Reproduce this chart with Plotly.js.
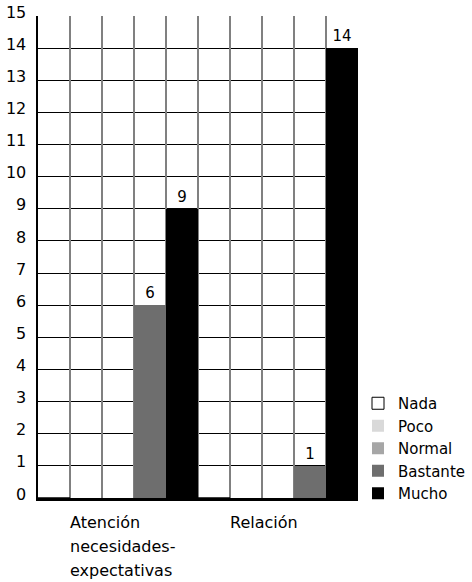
<!DOCTYPE html>
<html>
<head>
<meta charset="utf-8">
<script src="https://cdn.plot.ly/plotly-3.0.1.min.js"></script>
<style>html,body{margin:0;padding:0;background:#fff;}#chart{width:472px;height:582px;}</style>
</head>
<body>
<div id="chart"></div>
<script>
const categories = ['Atención necesidades-expectativas', 'Relación'];
const categoryLabelLines = [['Atención', 'necesidades-', 'expectativas'], ['Relación']];
const seriesNames = ['Nada', 'Poco', 'Normal', 'Bastante', 'Mucho'];
const nada = [0, 0];
const poco = [0, 0];
const normal = [0, 0];
const bastante = [6, 1];
const mucho = [9, 14];
const yTicks = [0,1,2,3,4,5,6,7,8,9,10,11,12,13,14,15];
const brokenGridValues = [15, 10, 9];

const seriesValues = [nada, poco, normal, bastante, mucho];
const colors = ['#ffffff', '#d9d9d9', '#a6a6a6', '#6e6e6e', '#000000'];
const fontFam = '"DejaVu Sans", "Noto Sans", sans-serif';

const traces = seriesNames.map((name, i) => ({
  type: 'bar',
  name: name,
  x: categories,
  y: seriesValues[i],
  text: seriesValues[i].map(v => v > 0 ? String(v) : ''),
  textposition: 'outside',
  textfont: {family: fontFam, size: 15, color: '#000'},
  cliponaxis: false,
  marker: {color: colors[i], line: {color: i === 0 ? '#000' : colors[i], width: i === 0 ? 1 : 0}}
}));

// invisible trace to activate the secondary x axis used for the vertical grid lines
traces.push({type: 'scatter', x: [0], y: [0], xaxis: 'x2', mode: 'markers', marker: {opacity: 0}, showlegend: false, hoverinfo: 'skip'});

const annotations = [];
categories.forEach((c, i) => {
  categoryLabelLines[i].forEach((line, j) => {
    annotations.push({
      xref: 'x', yref: 'paper', x: c, y: 0, yshift: -24 - 24 * j,
      xanchor: 'left', yanchor: 'middle', xshift: -49, align: 'left',
      text: line, showarrow: false, borderpad: 0,
      font: {family: fontFam, size: 16, color: '#000'}
    });
  });
});

// white gaps that break some grid lines into dashes, as in the reference
const shapes = brokenGridValues.map(v => ({
  type: 'line', xref: 'paper', yref: 'y', x0: 0, x1: 1, y0: v, y1: v,
  layer: 'between', line: {color: '#ffffff', width: 2, dash: '3px,9px'}
}));

const layout = {
  width: 472, height: 582,
  margin: {l: 38, r: 112, t: 16, b: 84},
  paper_bgcolor: '#fff', plot_bgcolor: '#fff',
  barmode: 'group', bargap: 0, bargroupgap: 0,
  showlegend: true,
  font: {family: fontFam, size: 15, color: '#000'},
  xaxis: {
    type: 'category', showticklabels: false, ticks: '', tickson: 'boundaries',
    showgrid: true, gridcolor: '#000', gridwidth: 1.5,
    showline: true, linecolor: '#000', linewidth: 2.5,
    zeroline: false
  },
  xaxis2: {
    overlaying: 'x', range: [0, 10], dtick: 1, showticklabels: false, ticks: '',
    showgrid: true, gridcolor: '#808080', gridwidth: 2, zeroline: false, showline: false
  },
  yaxis: {
    range: [0, 15], tickvals: yTicks, ticktext: yTicks.map(String),
    showgrid: true, gridcolor: '#000', gridwidth: 1, zeroline: false,
    showline: true, linecolor: '#000', linewidth: 2.5, ticks: '',
    ticklabelstandoff: 6, ticklabelshift: -4,
    tickfont: {family: fontFam, size: 16, color: '#000'}
  },
  legend: {
    xref: 'container', yref: 'container',
    x: 358 / 472, xanchor: 'left', y: 1 - 387 / 582, yanchor: 'top',
    itemwidth: 30, tracegroupgap: 0,
    font: {family: fontFam, size: 15, color: '#000'},
    bgcolor: 'rgba(0,0,0,0)'
  },
  shapes: shapes,
  annotations: annotations
};

Plotly.newPlot('chart', traces, layout, {displayModeBar: false, staticPlot: true});
</script>
</body>
</html>
